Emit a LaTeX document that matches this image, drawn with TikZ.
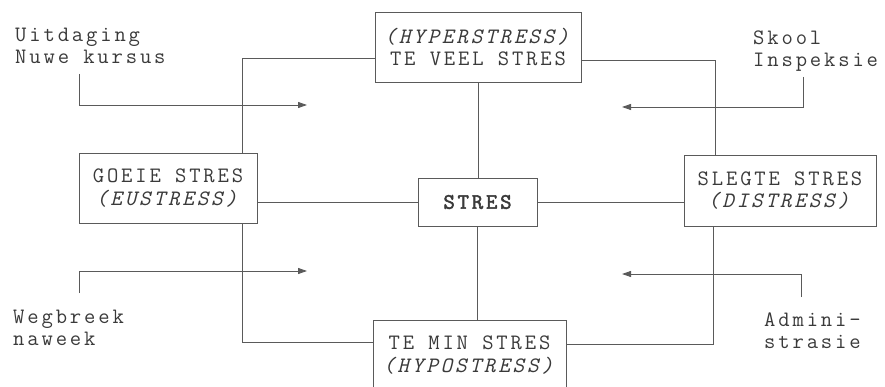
\documentclass[tikz,border=0pt]{standalone}
\usepackage{fontspec}
\setmonofont[LetterSpace=13]{Latin Modern Mono}
\newfontfamily\heavymono[LetterSpace=13,FakeBold=2.5]{Latin Modern Mono}
\usetikzlibrary{arrows.meta}

\definecolor{ink}{HTML}{3A3A3A}
\definecolor{wire}{HTML}{5A5A5A}

\tikzset{
  box/.style={draw=wire, line width=0.9pt, rectangle, align=center, inner sep=0pt,
    font=\ttfamily\fontsize{22}{22.5}\selectfont, text=ink},
  lab/.style={anchor=north west, align=left, inner sep=0pt,
    font=\ttfamily\fontsize{22}{22}\selectfont, text=ink},
  link/.style={draw=wire, line width=0.9pt},
  push/.style={link, -{Triangle[length=9pt,width=6pt]}},
}

\begin{document}
\begin{tikzpicture}[x=1pt,y=-1pt]

\useasboundingbox (0,0) rectangle (885,387);
\clip (0,0) rectangle (885,387);

% ===== Boxes =====
\node[box, minimum width=206pt, minimum height=70pt] (hyper) at (478,47) {\textit{(HYPERSTRESS)}\\TE VEEL STRES};
\node[box, minimum width=178pt, minimum height=70pt] (goeie) at (168,188) {GOEIE STRES\\\textit{(EUSTRESS)}};
\node[box, minimum width=192pt, minimum height=71pt] (slegte) at (780,190.5) {SLEGTE STRES\\\textit{(DISTRESS)}};
\node[box, minimum width=119pt, minimum height=48pt] (stres) at (477.5,202) {{\heavymono STRES}};
\node[box, minimum width=193pt, minimum height=70pt] (hypo) at (469.5,355) {TE MIN STRES\\\textit{(HYPOSTRESS)}};

% ===== Frame round the centre =====
\coordinate (tl) at (242,58);
\coordinate (bl) at (242,342);
\coordinate (tr) at (715,60);
\coordinate (br) at (713,344);

\draw[link] (hyper.west |- tl) -- (tl) -- (tl |- goeie.north);
\draw[link] (goeie.south -| bl) -- (bl) -- (bl -| hypo.west);
\draw[link] (hyper.east |- tr) -- (tr) -- (tr |- slegte.north);
\draw[link] (slegte.south -| br) -- (br) -- (br -| hypo.east);

% ===== Spokes =====
\draw[link] (hyper.south) -- (hyper.south |- stres.north);
\draw[link] (stres.south) -- (stres.south |- hypo.north);
\draw[link] (stres.west) -- (stres.west -| goeie.east);
\draw[link] (stres.east) -- (stres.east -| slegte.west);

% ===== Stressors =====
\node[lab] (uitdaging) at (15,28) {Uitdaging\\Nuwe kursus};
\node[lab] (skool) at (753,31) {Skool\\Inspeksie};
\node[lab] (wegbreek) at (13,310) {Wegbreek\\naweek};
\node[lab] (admini) at (764,313) {Admini-\\strasie};

\coordinate (s1) at (79,74);   \coordinate (t1) at (307,105);
\coordinate (s2) at (79,293);  \coordinate (t2) at (307,271);
\coordinate (s3) at (803,77);  \coordinate (t3) at (622,107);
\coordinate (s4) at (801,297); \coordinate (t4) at (622,274);

\draw[push] (s1) |- (t1);
\draw[push] (s2) |- (t2);
\draw[push] (s3) |- (t3);
\draw[push] (s4) |- (t4);

\end{tikzpicture}
\end{document}
